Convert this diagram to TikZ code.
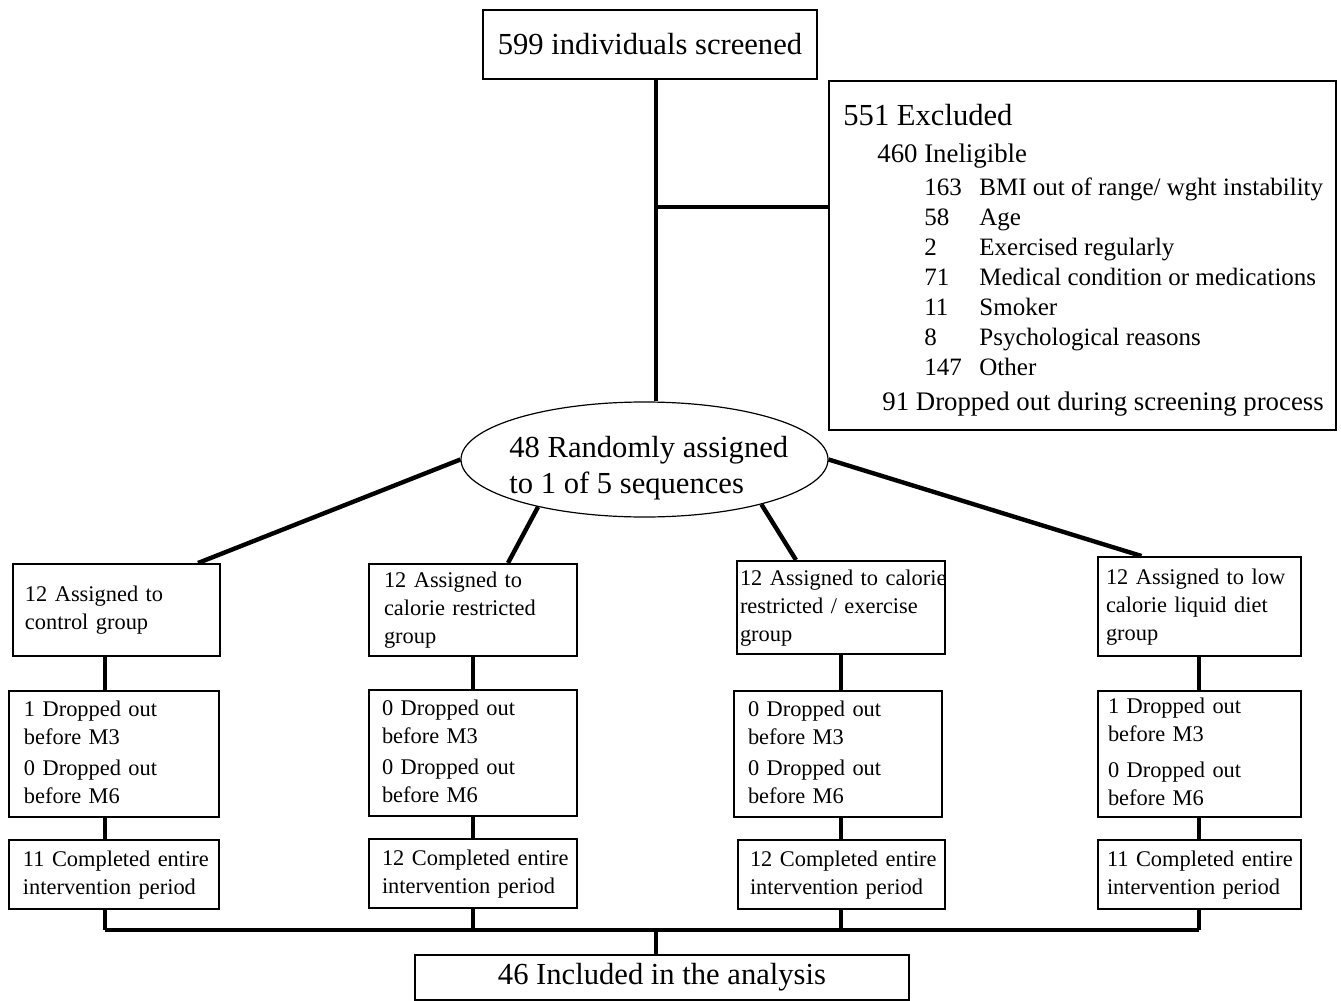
\documentclass[tikz,border=0pt]{standalone}
\usepackage{fontspec}
\setmainfont{Liberation Serif}
\usetikzlibrary{shapes.geometric}
\newcommand\flowbig{\fontsize{15.3}{18}\selectfont}
\newcommand\flowmid{\fontsize{13.4}{16}\selectfont}
\newcommand\flowitem{\fontsize{12.5}{15}\selectfont}
\newcommand\flowgrp{\fontsize{11.2}{14}\selectfont}
\newcommand\lines[1]{\begin{tabular}{@{}l@{}}#1\end{tabular}}
\tikzset{
box/.style={draw,rectangle,line width=1pt,inner sep=0pt},
grpbox/.style={box,anchor=north west,align=left,font=\flowgrp,inner ysep=0pt},
txt/.style={inner sep=0pt,anchor=base west},
link/.style={line width=2.2pt}
}
\begin{document}
\begin{tikzpicture}[x=0.5pt,y=-0.5pt]
\useasboundingbox (0,0) rectangle (1341,1001);

\node[box,font=\flowbig,minimum width=167pt,minimum height=34.5pt] (screen) at (650,44.5) {599 individuals screened};

\node[box,anchor=north west,minimum width=253.5pt,minimum height=174.5pt] (excl) at (828,80) {};
\node[txt,font=\flowbig]  (exhead)  at (843,125) {551 Excluded};
\node[txt,font=\flowmid]  (inelig)  at (877,162) {460 Ineligible};
\node[txt,font=\flowitem] (reasons) at (924,195) {\begin{tabular}[t]{@{}p{27.5pt}@{}l@{}}
163 & BMI out of range/ wght instability\\
58  & Age\\
2   & Exercised regularly\\
71  & Medical condition or medications\\
11  & Smoker\\
8   & Psychological reasons\\
147 & Other
\end{tabular}};
\node[txt,font=\flowmid]  (dropped) at (882,410) {91 Dropped out during screening process};

\node[draw,ellipse,line width=0.6pt,inner sep=0pt,minimum width=183.5pt,minimum height=57.5pt] (rand) at (644.5,459.5) {};
\node[txt,font=\flowbig] (randtxt) at (509,457) {\begin{tabular}[t]{@{}l@{}}48 Randomly assigned\\to 1 of 5 sequences\end{tabular}};

% groups
\node[grpbox,minimum height=46pt,text width=91.5pt,inner xsep=6pt]   (a1) at (12,563)   {\lines{12 Assigned to\\control group}};
\node[grpbox,minimum height=46pt,text width=89pt,inner xsep=7.5pt]   (b1) at (368,563)  {\lines{12 Assigned to\\calorie restricted\\group}};
\node[grpbox,minimum height=46.5pt,text width=101pt,inner xsep=1.5pt] (c1) at (736,560)  {\lines{12 Assigned to calorie\\restricted / exercise\\group}};
\node[grpbox,minimum height=49.5pt,text width=93.5pt,inner xsep=4pt] (d1) at (1097,556) {\lines{12 Assigned to low\\calorie liquid diet\\group}};

\node[grpbox,minimum height=63pt,text width=90pt,inner xsep=7.5pt]   (a2) at (8,690)    {\lines{1 Dropped out\\before M3\\[1.5pt]0 Dropped out\\before M6}};
\node[grpbox,minimum height=63pt,text width=91pt,inner xsep=6.5pt]   (b2) at (368,689)  {\lines{0 Dropped out\\before M3\\[1.5pt]0 Dropped out\\before M6}};
\node[grpbox,minimum height=63pt,text width=90pt,inner xsep=7pt]     (c2) at (733,690)  {\lines{0 Dropped out\\before M3\\[1.5pt]0 Dropped out\\before M6}};
\node[grpbox,minimum height=63pt,text width=91.5pt,inner xsep=5pt]   (d2) at (1097,690) {\lines{1 Dropped out\\before M3\\[4pt]0 Dropped out\\before M6}};

\node[grpbox,minimum height=34.5pt,text width=91pt,inner xsep=7pt]   (a3) at (8,839)    {\lines{11 Completed entire\\intervention period}};
\node[grpbox,minimum height=34.5pt,text width=91pt,inner xsep=6.5pt] (b3) at (368,838)  {\lines{12 Completed entire\\intervention period}};
\node[grpbox,minimum height=34.5pt,text width=91.5pt,inner xsep=6pt] (c3) at (737,839)  {\lines{12 Completed entire\\intervention period}};
\node[grpbox,minimum height=34.5pt,text width=92.5pt,inner xsep=4.5pt] (d3) at (1097,839) {\lines{11 Completed entire\\intervention period}};

\node[box,font=\flowbig,minimum width=247pt,minimum height=22.5pt] (final) at (662,977.5) {46 Included in the analysis};

\coordinate (spine) at (656,207);
\coordinate (merge) at (656,930);
\coordinate (mergeA) at (105,930);
\coordinate (mergeB) at (473,930);
\coordinate (mergeC) at (841,930);
\coordinate (mergeD) at (1199,930);

\draw[link] (screen.south -| spine) -- (rand.north -| spine);
\draw[link] (spine) -- (spine -| excl.west);

\draw[link] (rand.west) -- ([xshift=-11.5pt]a1.north east);
\draw[link] (rand.204)  -- ([xshift=17.5pt]b1.north);
\draw[link] (rand.339)  -- ([xshift=-22.5pt]c1.north);
\draw[link] (rand.east) -- ([xshift=-29pt]d1.north);

\draw[link] (a1.south -| mergeA) -- (a2.north -| mergeA)
            (a2.south -| mergeA) -- (a3.north -| mergeA)
            (a3.south -| mergeA) -- (mergeA);
\draw[link] (b1.south -| mergeB) -- (b2.north -| mergeB)
            (b2.south -| mergeB) -- (b3.north -| mergeB)
            (b3.south -| mergeB) -- (mergeB);
\draw[link] (c1.south -| mergeC) -- (c2.north -| mergeC)
            (c2.south -| mergeC) -- (c3.north -| mergeC)
            (c3.south -| mergeC) -- (mergeC);
\draw[link] (d1.south -| mergeD) -- (d2.north -| mergeD)
            (d2.south -| mergeD) -- (d3.north -| mergeD)
            (d3.south -| mergeD) -- (mergeD);
\draw[link] (mergeA) -- (mergeD);
\draw[link] (merge) -- (final.north -| merge);
\end{tikzpicture}
\end{document}
